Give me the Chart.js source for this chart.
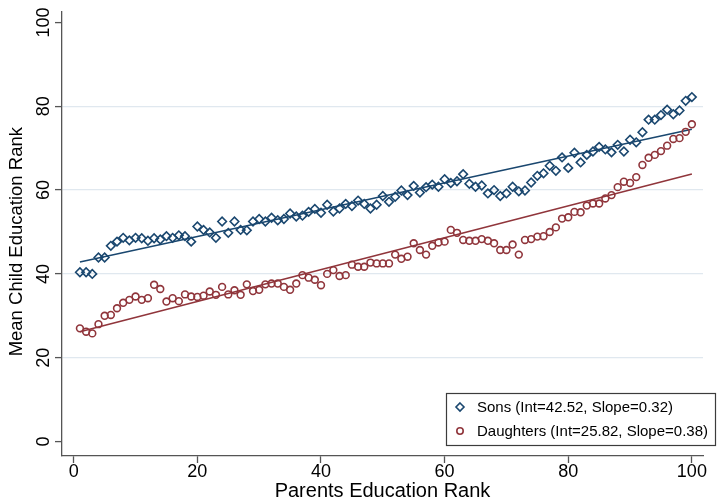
<!DOCTYPE html>
<html>
<head>
<meta charset="utf-8">
<script src="https://cdn.jsdelivr.net/npm/chart.js@4/dist/chart.umd.min.js"></script>
<style>
  html, body { margin: 0; padding: 0; background: #ffffff; }
  #wrap { width: 718px; height: 502px; position: relative; }
</style>
</head>
<body>
<div id="wrap"><canvas id="chart" width="718" height="502"></canvas></div>
<script>
// Parents' education rank (percentile bins)
const parentRanks = [
  1, 2, 3, 4, 5, 6, 7, 8, 9, 10, 11, 12, 13, 14, 15, 16, 17, 18, 19, 20,
  21, 22, 23, 24, 25, 26, 27, 28, 29, 30, 31, 32, 33, 34, 35, 36, 37, 38, 39, 40,
  41, 42, 43, 44, 45, 46, 47, 48, 49, 50, 51, 52, 53, 54, 55, 56, 57, 58, 59, 60,
  61, 62, 63, 64, 65, 66, 67, 68, 69, 70, 71, 72, 73, 74, 75, 76, 77, 78, 79, 80,
  81, 82, 83, 84, 85, 86, 87, 88, 89, 90, 91, 92, 93, 94, 95, 96, 97, 98, 99, 100
];

// Mean education rank of sons in each parental bin
const sonsRank = [
  40.4, 40.4, 40.0, 43.9, 43.9, 46.7, 47.7, 48.6, 48.0, 48.6,
  48.5, 47.9, 48.5, 48.2, 49.0, 48.6, 49.2, 49.0, 47.7, 51.3,
  50.5, 49.9, 48.6, 52.5, 49.8, 52.5, 50.5, 50.4, 52.5, 53.1,
  52.5, 53.4, 52.8, 53.1, 54.4, 53.7, 53.9, 54.8, 55.5, 54.6,
  56.5, 54.9, 55.6, 56.7, 56.2, 57.5, 56.7, 55.6, 56.5, 58.6,
  57.2, 58.4, 59.9, 58.8, 61.0, 59.4, 60.7, 61.3, 60.8, 62.6,
  61.7, 62.1, 63.8, 61.5, 60.8, 61.1, 59.2, 60.0, 58.6, 59.2,
  60.8, 59.7, 59.9, 61.8, 63.4, 64.0, 65.8, 64.6, 67.8, 65.3,
  68.9, 66.6, 68.4, 69.2, 70.3, 69.7, 69.0, 70.8, 69.2, 72.0,
  71.4, 73.8, 76.8, 76.8, 77.9, 79.2, 78.1, 79.0, 81.3, 82.2
];

// Mean education rank of daughters in each parental bin
const daughtersRank = [
  27.0, 26.2, 25.8, 28.0, 30.0, 30.2, 31.8, 33.1, 33.8, 34.6,
  33.8, 34.2, 37.4, 36.4, 33.4, 34.2, 33.5, 35.1, 34.6, 34.5,
  34.8, 35.8, 35.0, 36.9, 35.1, 36.1, 35.0, 37.5, 35.9, 36.2,
  37.5, 37.7, 37.7, 36.9, 36.2, 37.7, 39.7, 39.1, 38.6, 37.3,
  40.0, 40.9, 39.5, 39.7, 42.2, 41.7, 41.7, 42.7, 42.5, 42.5,
  42.5, 44.6, 43.6, 44.1, 47.3, 45.7, 44.6, 46.7, 47.5, 47.7,
  50.5, 49.8, 48.1, 47.9, 47.9, 48.3, 47.9, 47.3, 45.7, 45.7,
  47.0, 44.6, 48.1, 48.3, 48.9, 49.0, 50.0, 51.1, 53.2, 53.5,
  54.8, 54.7, 56.3, 56.8, 56.8, 58.0, 58.8, 60.7, 62.0, 61.7,
  63.1, 66.0, 67.7, 68.4, 69.3, 70.6, 72.2, 72.4, 73.9, 75.7
];

// Linear fits: [sons, daughters]
const seriesNames = ['Sons', 'Daughters'];
const fitIntercepts = [42.52, 25.82];
const fitSlopes = [0.32, 0.38];

// Axis tick labels
const xTickValues = [0, 20, 40, 60, 80, 100];
const yTickValues = [0, 20, 40, 60, 80, 100];

const FONT = "'Liberation Sans', Arial, sans-serif";
const NAVY = '#1a476f';
const MAROON = '#90353b';
const AXIS = '#555555';
const GRID = '#e0e8ef';

const toPoints = ys => parentRanks.map((r, i) => ({ x: r, y: ys[i] }));
const fitLine = k => {
  const lo = parentRanks[0], hi = parentRanks[parentRanks.length - 1];
  return [lo, hi].map(x => ({ x, y: fitIntercepts[k] + fitSlopes[k] * x }));
};
const legendText = k =>
  `${seriesNames[k]} (Int=${fitIntercepts[k].toFixed(2)}, Slope=${fitSlopes[k].toFixed(2)})`;

// Boxed legend in the lower-right corner
const boxLegend = {
  id: 'boxLegend',
  afterDraw(chart) {
    const ctx = chart.ctx;
    const bx = 446, by = 393, bw = 270, bh = 53;
    ctx.save();
    ctx.fillStyle = '#ffffff';
    ctx.fillRect(bx, by, bw, bh);
    ctx.strokeStyle = '#3c3c3c';
    ctx.lineWidth = 1.2;
    ctx.strokeRect(bx + 0.5, by + 0.5, bw - 1, bh - 1);
    const rows = [
      { y: by + 14, color: NAVY, style: 'diamond' },
      { y: by + 38, color: MAROON, style: 'circle' }
    ];
    rows.forEach((row, k) => {
      const mx = bx + 14;
      ctx.strokeStyle = row.color;
      ctx.lineWidth = 1.6;
      ctx.beginPath();
      if (row.style === 'diamond') {
        const r = 4;
        ctx.moveTo(mx, row.y - r);
        ctx.lineTo(mx + r, row.y);
        ctx.lineTo(mx, row.y + r);
        ctx.lineTo(mx - r, row.y);
        ctx.closePath();
      } else {
        ctx.arc(mx, row.y, 3.2, 0, Math.PI * 2);
      }
      ctx.stroke();
      ctx.fillStyle = '#000000';
      ctx.font = `15px ${FONT}`;
      ctx.textAlign = 'left';
      ctx.textBaseline = 'middle';
      ctx.fillText(legendText(k), bx + 31, row.y + 1);
    });
    ctx.restore();
  }
};

new Chart(document.getElementById('chart'), {
  type: 'scatter',
  data: {
    datasets: [
      {
        label: legendText(0),
        data: toPoints(sonsRank),
        pointStyle: 'rectRot',
        pointRadius: 4.3,
        borderColor: NAVY,
        backgroundColor: 'rgba(0,0,0,0)',
        borderWidth: 1.6,
        showLine: false
      },
      {
        label: legendText(1),
        data: toPoints(daughtersRank),
        pointStyle: 'circle',
        pointRadius: 3.4,
        borderColor: MAROON,
        backgroundColor: 'rgba(0,0,0,0)',
        borderWidth: 1.6,
        showLine: false
      },
      {
        label: 'Sons fit',
        data: fitLine(0),
        showLine: true,
        pointRadius: 0,
        borderColor: NAVY,
        borderWidth: 1.6,
        fill: false
      },
      {
        label: 'Daughters fit',
        data: fitLine(1),
        showLine: true,
        pointRadius: 0,
        borderColor: MAROON,
        borderWidth: 1.6,
        fill: false
      }
    ]
  },
  options: {
    responsive: false,
    animation: false,
    devicePixelRatio: 1,
    layout: { padding: { top: 12, right: 15, left: 0, bottom: 0 } },
    plugins: {
      legend: { display: false },
      tooltip: { enabled: false }
    },
    scales: {
      x: {
        type: 'linear',
        min: -1.9,
        max: 101.8,
        afterBuildTicks: axis => { axis.ticks = xTickValues.map(v => ({ value: v })); },
        afterFit: scale => { scale.height = 46; },
        grid: {
          drawOnChartArea: false,
          drawTicks: true,
          tickLength: 7,
          tickColor: AXIS,
          tickWidth: 1.3
        },
        border: { display: true, color: AXIS, width: 1.3 },
        ticks: {
          color: '#000000',
          font: { family: FONT, size: 18 },
          padding: -2,
          maxRotation: 0,
          autoSkip: false
        },
        title: {
          display: true,
          text: 'Parents Education Rank',
          color: '#000000',
          font: { family: FONT, size: 20 },
          padding: { top: 0, bottom: -1 }
        }
      },
      y: {
        type: 'linear',
        min: -3.46,
        max: 102.5,
        afterBuildTicks: axis => { axis.ticks = yTickValues.map(v => ({ value: v })); },
        afterFit: scale => { scale.width = 62; },
        grid: {
          drawOnChartArea: true,
          drawTicks: true,
          tickLength: 7,
          tickColor: AXIS,
          tickWidth: 1.3,
          lineWidth: 1.2,
          color: c => (c.tick && (c.tick.value === 0 || c.tick.value === 100)) ? 'rgba(0,0,0,0)' : GRID
        },
        border: { display: true, color: AXIS, width: 1.3 },
        ticks: {
          color: '#000000',
          font: { family: FONT, size: 18 },
          minRotation: 90,
          maxRotation: 90,
          crossAlign: 'center',
          padding: -4,
          autoSkip: false
        },
        title: {
          display: true,
          // trailing spaces nudge the rotated title toward the plot's lower half
          text: 'Mean Child Education Rank   ',
          color: '#000000',
          font: { family: FONT, size: 18.5 },
          padding: { top: 6, bottom: 0 }
        }
      }
    }
  },
  plugins: [boxLegend]
});
</script>
</body>
</html>
